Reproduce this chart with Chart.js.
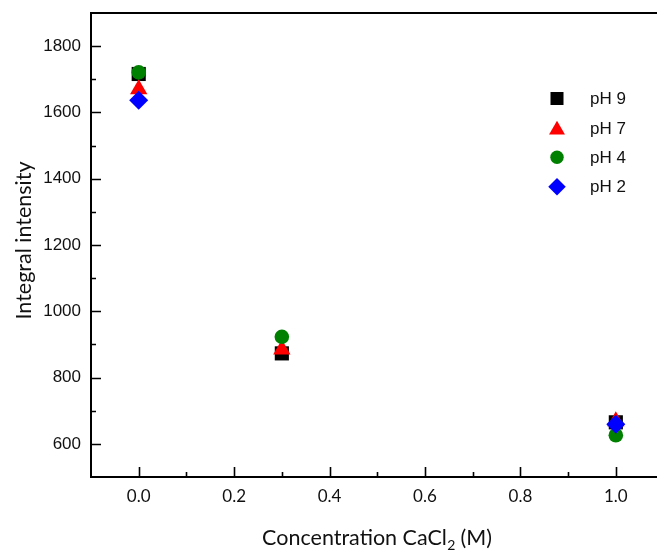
<!DOCTYPE html>
<html><head><meta charset="utf-8">
<script src="https://cdn.jsdelivr.net/npm/chart.js@4.4.0/dist/chart.umd.min.js"></script>
<style>
html,body{margin:0;padding:0;background:#fff;overflow:hidden;width:657px;height:550px}
canvas{display:block}
</style></head>
<body><canvas id="c" width="657" height="550" style="width:657px;height:550px"></canvas>
<script>
const xValues = [0, 0.3, 1.0];
const seriesLabels = ['pH 9', 'pH 7', 'pH 4', 'pH 2'];
const pH9 = [1716, 873, 665];
const pH7 = [1670, 885, 668];
const pH4 = [1721, 923, 626];
const pH2 = [1637, null, 659];
const xTickValues = [0, 0.2, 0.4, 0.6, 0.8, 1.0];
const xMinorTickValues = [0.1, 0.3, 0.5, 0.7, 0.9];
const yTickValues = [600, 800, 1000, 1200, 1400, 1600, 1800];
const yMinorTickValues = [700, 900, 1100, 1300, 1500, 1700];
const xTitleMain = 'Concentration CaCl';
const xTitleSub = '2';
const xTitleTail = ' (M)';
const yTitle = 'Integral intensity';

const seriesValues = [pH9, pH7, pH4, pH2];
const styles = [
  {color: '#000000', pointStyle: 'rect', radius: 10, order: 4},
  {color: '#ff0000', pointStyle: 'triangle', radius: 10, order: 3},
  {color: '#008000', pointStyle: 'circle', radius: 7.3, order: 2},
  {color: '#0000ff', pointStyle: 'rectRot', radius: 9.5, order: 1}
];

const datasets = seriesLabels.map((lab, i) => ({
  label: lab,
  data: xValues.map((x, j) => seriesValues[i][j] == null ? null : {x: x, y: seriesValues[i][j]}).filter(p => p),
  pointStyle: styles[i].pointStyle,
  pointRadius: styles[i].radius,
  pointHoverRadius: styles[i].radius,
  backgroundColor: styles[i].color,
  borderColor: styles[i].color,
  pointBorderWidth: 0,
  borderWidth: 0,
  showLine: false,
  order: styles[i].order
}));

const framePlugin = {
  id: 'frame',
  afterDraw(chart) {
    const ctx = chart.ctx, a = chart.chartArea;
    const xs = chart.scales.x, ys = chart.scales.y;
    ctx.save();
    ctx.strokeStyle = '#000';
    ctx.lineWidth = 2;
    ctx.beginPath();
    ctx.moveTo(a.left - 1, a.top);
    ctx.lineTo(chart.width, a.top);
    ctx.stroke();
    ctx.lineWidth = 1.6;
    ctx.beginPath();
    xTickValues.forEach(v => { const p = Math.round(xs.getPixelForValue(v)) + 0.5; ctx.moveTo(p, a.bottom); ctx.lineTo(p, a.bottom - 10); });
    xMinorTickValues.forEach(v => { const p = Math.round(xs.getPixelForValue(v)) + 0.5; ctx.moveTo(p, a.bottom); ctx.lineTo(p, a.bottom - 5); });
    yTickValues.forEach(v => { const p = Math.round(ys.getPixelForValue(v)) + 0.5; ctx.moveTo(a.left, p); ctx.lineTo(a.left + 10, p); });
    yMinorTickValues.forEach(v => { const p = Math.round(ys.getPixelForValue(v)) + 0.5; ctx.moveTo(a.left, p); ctx.lineTo(a.left + 5, p); });
    ctx.stroke();

    // x axis title with subscript
    const mainFont = '21.5px Lato';
    const subFont = '14px Lato';
    ctx.fillStyle = '#111';
    ctx.textBaseline = 'alphabetic';
    ctx.textAlign = 'left';
    ctx.font = mainFont;
    const w1 = ctx.measureText(xTitleMain).width;
    const w3 = ctx.measureText(xTitleTail).width;
    ctx.font = subFont;
    const w2 = ctx.measureText(xTitleSub).width;
    const total = w1 + w2 + w3;
    let x0 = 377 - total / 2;
    const base = 545;
    ctx.font = mainFont;
    ctx.fillText(xTitleMain, x0, base);
    ctx.font = subFont;
    ctx.fillText(xTitleSub, x0 + w1 + 0.5, base + 5);
    ctx.font = mainFont;
    ctx.fillText(xTitleTail, x0 + w1 + w2, base);

    // y axis title
    ctx.save();
    ctx.translate(31, 240.5);
    ctx.rotate(-Math.PI / 2);
    ctx.textAlign = 'center';
    ctx.textBaseline = 'alphabetic';
    ctx.font = mainFont;
    ctx.fillText(yTitle, 0, 0);
    ctx.restore();

    // legend
    const lx = 557, ly0 = 98.5, step = 29.4;
    chart.data.datasets.forEach((ds, i) => {
      const y = ly0 + i * step;
      ctx.fillStyle = ds.backgroundColor;
      Chart.helpers.drawPoint(ctx, {pointStyle: ds.pointStyle, radius: ds.pointRadius * 0.92, rotation: 0, borderWidth: 0}, lx, y + (ds.pointStyle === 'triangle' ? 2 : 0));
      ctx.fillStyle = '#111';
      ctx.font = '17px "Liberation Sans"';
      ctx.textAlign = 'left';
      ctx.textBaseline = 'middle';
      ctx.fillText(ds.label, 590, y + 1);
    });
    ctx.restore();
  }
};

new Chart(document.getElementById('c'), {
  type: 'scatter',
  data: {datasets: datasets},
  options: {
    responsive: false,
    maintainAspectRatio: false,
    animation: false,
    events: [],
    layout: {autoPadding: false, padding: {top: 13, right: 0, left: 0, bottom: 0}},
    plugins: {legend: {display: false}, tooltip: {enabled: false}},
    scales: {
      x: {
        type: 'linear', min: -0.1, max: 1.0863,
        afterFit(s) { s.height = 73; s.paddingLeft = 0; s.paddingRight = 0; },
        afterBuildTicks(s) { s.ticks = xTickValues.map(v => ({value: v})); },
        grid: {display: false, drawTicks: false},
        border: {display: true, color: '#000', width: 2},
        ticks: {padding: 9, color: '#111', font: {family: 'Lato', size: 17}, callback: v => Number(v).toFixed(1), maxRotation: 0, autoSkip: false}
      },
      y: {
        type: 'linear', min: 500, max: 1900,
        afterFit(s) { s.width = 91; s.paddingTop = 0; s.paddingBottom = 0; },
        afterBuildTicks(s) { s.ticks = yTickValues.map(v => ({value: v})); },
        grid: {display: false, drawTicks: false},
        border: {display: true, color: '#000', width: 2},
        ticks: {padding: 10, color: '#111', font: {family: 'Liberation Sans', size: 17}, callback: v => String(v), autoSkip: false}
      }
    }
  },
  plugins: [framePlugin]
});
</script>
</body></html>
